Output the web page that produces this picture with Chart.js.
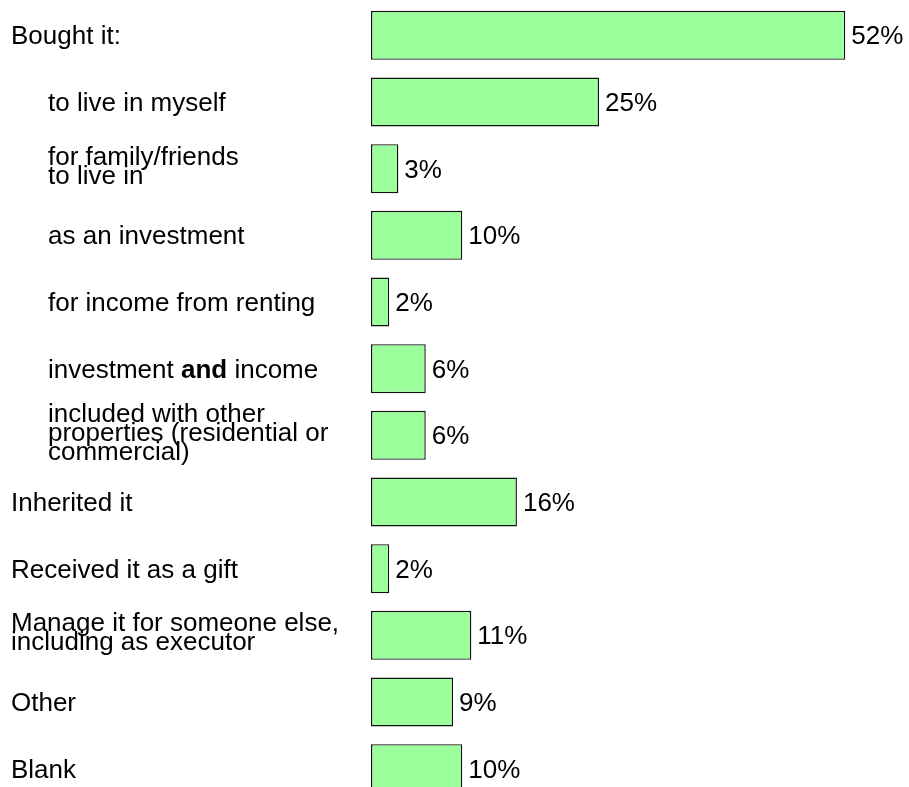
<!DOCTYPE html>
<html>
<head>
<meta charset="utf-8">
<script src="https://cdn.jsdelivr.net/npm/chart.js@4.4.1/dist/chart.umd.min.js"></script>
<style>
  html, body { margin: 0; padding: 0; background: #fff; overflow: hidden; }
  #wrap { position: relative; width: 909px; height: 802px; }
</style>
</head>
<body>
<div id="wrap"><canvas id="chart"></canvas></div>
<script>
// Survey answers: how the property was acquired (share of respondents, %)
const categories = [
  ['Bought it:'],
  ['to live in myself'],
  ['for family/friends', 'to live in'],
  ['as an investment'],
  ['for income from renting'],
  ['investment **and** income'],
  ['included with other', 'properties (residential or', 'commercial)'],
  ['Inherited it'],
  ['Received it as a gift'],
  ['Manage it for someone else,', 'including as executor'],
  ['Other'],
  ['Blank']
];
// sub-answers of "Bought it:" are indented
const subItem = [false, true, true, true, true, true, true, false, false, false, false, false];
const values = [52, 25, 3, 10, 2, 6, 6, 16, 2, 11, 9, 10];

const FONT_SIZE = 26;
const FAMILY = '"Liberation Sans", Arial, Helvetica, sans-serif';
const LINE_GAP = 19.3;

// baseline positions for a block of lines centred on a bar
function baselines(center, n) {
  const shift = n > 1 ? -3.5 : 0;
  const out = [];
  for (let i = 0; i < n; i++) {
    out.push(center + 9 + shift + (i - (n - 1) / 2) * LINE_GAP);
  }
  return out;
}

// draws a line, honouring **bold** segments
function drawRich(ctx, text, x, y) {
  const parts = text.split('**');
  let cx = x;
  parts.forEach((p, idx) => {
    ctx.font = (idx % 2 === 1 ? 'bold ' : '') + FONT_SIZE + 'px ' + FAMILY;
    ctx.fillText(p, cx, y);
    cx += ctx.measureText(p).width;
  });
}

const labelPlugin = {
  id: 'sideLabels',
  afterDatasetsDraw(chart) {
    const ctx = chart.ctx;
    const yScale = chart.scales.y;
    const meta = chart.getDatasetMeta(0);
    ctx.save();
    ctx.fillStyle = '#000';
    ctx.textAlign = 'left';
    ctx.textBaseline = 'alphabetic';
    categories.forEach((lines, i) => {
      const cy = yScale.getPixelForValue(i);
      const x = subItem[i] ? 48 : 11;
      baselines(cy, lines.length).forEach((by, k) => drawRich(ctx, lines[k], x, by));
      // value label at the end of the bar
      const bar = meta.data[i];
      ctx.font = FONT_SIZE + 'px ' + FAMILY;
      ctx.fillText(values[i] + '%', bar.x + 6, baselines(bar.y, 1)[0]);
    });
    ctx.restore();
  }
};

new Chart(document.getElementById('chart'), {
  type: 'bar',
  data: {
    labels: categories.map(l => l.join(' ')),
    datasets: [{
      data: values,
      backgroundColor: '#9CFF9C',
      borderColor: '#111',
      borderWidth: 1.4,
      borderSkipped: false,
      categoryPercentage: 1,
      barPercentage: 0.735
    }]
  },
  options: {
    indexAxis: 'y',
    responsive: true,
    maintainAspectRatio: false,
    animation: false,
    layout: { padding: { left: 371, right: 9, top: 2, bottom: 0 } },
    plugins: { legend: { display: false }, tooltip: { enabled: false } },
    scales: {
      x: { display: false, min: 0, max: 58 },
      y: { display: false }
    }
  },
  plugins: [labelPlugin]
});
</script>
</body>
</html>
